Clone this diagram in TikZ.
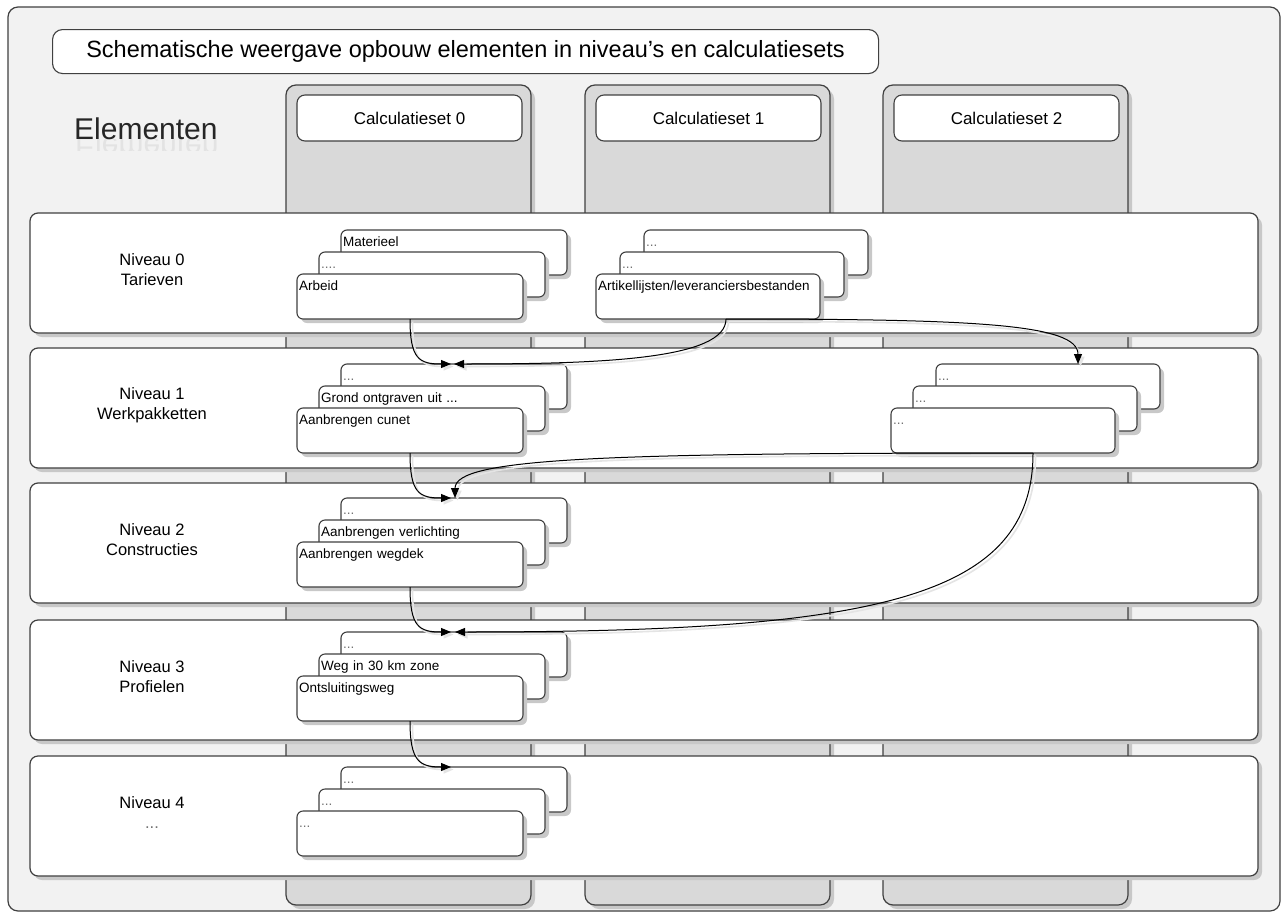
\documentclass[tikz,border=0pt]{standalone}
\usepackage{fontspec}
\usepackage{graphicx}
\setmainfont{Liberation Sans}
\usetikzlibrary{arrows.meta,shadows}
\definecolor{framefill}{HTML}{F2F2F2}
\definecolor{colfill}{HTML}{D9D9D9}
\definecolor{edgec}{HTML}{404040}
\definecolor{shadec}{HTML}{C8C8C8}
\definecolor{lineshade}{HTML}{E4E4E4}
\newcommand\myconn[1]{\draw[connsh] #1; \draw[conn] #1;}
\tikzset{
  myshadow/.style={drop shadow={shadow xshift=4pt, shadow yshift=-4pt, fill=shadec, opacity=1}},
  elbox/.style={draw=edgec, fill=white, line width=1.1pt, rounded corners=6pt,
    inner xsep=2pt, inner ysep=2pt, text height=14pt, text depth=27pt, align=left,
    font=\fontsize{13.5}{16}\selectfont, anchor=north west, outer sep=0pt, myshadow},
  lvl/.style={draw=edgec, fill=white, line width=1.2pt, rounded corners=8pt,
    minimum width=1228pt, minimum height=120pt, anchor=north west, inner sep=0pt, outer sep=0pt, myshadow},
  colbox/.style={draw=edgec, fill=colfill, line width=1.2pt, rounded corners=10pt,
    minimum width=245pt, minimum height=820pt, anchor=north west, inner sep=0pt, outer sep=0pt, myshadow},
  hdr/.style={draw=edgec, fill=white, line width=1.1pt, rounded corners=8pt,
    minimum width=225pt, minimum height=46pt, anchor=north west, inner sep=0pt, outer sep=0pt,
    font=\fontsize{17}{20}\selectfont},
  lvltext/.style={align=center, font=\fontsize{16.5}{20}\selectfont},
  conn/.style={draw=black, line width=1pt, -{Triangle[length=10pt,width=8pt]}},
  connsh/.style={draw=lineshade, line width=1.6pt, -{Triangle[length=10pt,width=8pt]},
    transform canvas={shift={(2.5pt,-2.5pt)}}},
}
\begin{document}
\begin{tikzpicture}[x=1pt,y=-1pt]
\fill[white] (0,0) rectangle (1282,913);
\useasboundingbox (0,0) rectangle (1282,913);
% outer frame
\draw[draw=edgec, fill=framefill, line width=1.2pt, rounded corners=10pt] (8,7) rectangle (1280,911);
% title
\node[draw=edgec, fill=white, line width=1.1pt, rounded corners=10pt, minimum width=826pt,
  minimum height=44pt, anchor=north west, inner sep=0pt, font=\fontsize{23.5}{28}\selectfont]
  (title) at (52,29) {Schematische weergave opbouw elementen in niveau’s en calculatiesets};
% Elementen with reflection
\begin{scope}
\clip (60,139) rectangle (240,150);
\node[anchor=base west, inner sep=0pt, text=gray!22, font=\fontsize{30}{36}\selectfont] (elemr) at (75,137) {\scalebox{1}[-1]{Elementen}};
\end{scope}
\node[anchor=base west, inner sep=0pt, font=\fontsize{30}{36}\selectfont, text=black!85] (elem) at (74,139) {Elementen};
% columns
\node[colbox] (col0) at (286,85) {};
\node[colbox] (col1) at (585,85) {};
\node[colbox] (col2) at (883,85) {};
\node[hdr] (cs0) at (297,95) {Calculatieset 0};
\node[hdr] (cs1) at (596,95) {Calculatieset 1};
\node[hdr] (cs2) at (894,95) {Calculatieset 2};
% levels
\node[lvl] (l0) at (30,213) {};
\node[lvl] (l1) at (30,348) {};
\node[lvl] (l2) at (30,483) {};
\node[lvl] (l3) at (30,620) {};
\node[lvl] (l4) at (30,756) {};
\node[lvltext] (n0) at (152,270) {Niveau 0\\Tarieven};
\node[lvltext] (n1) at (152,405) {Niveau 1\\Werkpakketten};
\node[lvltext] (n2) at (152,540) {Niveau 2\\Constructies};
\node[lvltext] (n3) at (152,677) {Niveau 3\\Profielen};
\node[lvltext] (n4) at (152,813) {Niveau 4\\\textcolor{black!55}{...}};
% level 0
\node[elbox, text width=222pt] (a0b) at (341,230) {Materieel};
\node[elbox, text width=222pt] (a0m) at (319,252) {\textcolor{black!55}{....}};
\node[elbox, text width=222pt] (a0f) at (297,274) {Arbeid};
\node[elbox, text width=220pt] (b0b) at (644,230) {\textcolor{black!55}{...}};
\node[elbox, text width=220pt] (b0m) at (620,252) {\textcolor{black!55}{...}};
\node[elbox, text width=220pt] (b0f) at (596,274) {Artikellijsten/leveranciersbestanden};
% level 1
\node[elbox, text width=222pt] (a1b) at (341,364) {\textcolor{black!55}{...}};
\node[elbox, text width=222pt] (a1m) at (319,386) {Grond ontgraven uit ...};
\node[elbox, text width=222pt] (a1f) at (297,408) {Aanbrengen cunet};
\node[elbox, text width=220pt] (c1b) at (936,364) {\textcolor{black!55}{...}};
\node[elbox, text width=220pt] (c1m) at (913,386) {\textcolor{black!55}{...}};
\node[elbox, text width=220pt] (c1f) at (891,408) {\textcolor{black!55}{...}};
% level 2
\node[elbox, text width=222pt] (a2b) at (341,498) {\textcolor{black!55}{...}};
\node[elbox, text width=222pt] (a2m) at (319,520) {Aanbrengen verlichting};
\node[elbox, text width=222pt] (a2f) at (297,542) {Aanbrengen wegdek};
% level 3
\node[elbox, text width=222pt] (a3b) at (341,632) {\textcolor{black!55}{...}};
\node[elbox, text width=222pt] (a3m) at (319,654) {Weg in 30 km zone};
\node[elbox, text width=222pt] (a3f) at (297,676) {Ontsluitingsweg};
% level 4
\node[elbox, text width=222pt] (a4b) at (341,767) {\textcolor{black!55}{...}};
\node[elbox, text width=222pt] (a4m) at (319,789) {\textcolor{black!55}{...}};
\node[elbox, text width=222pt] (a4f) at (297,811) {\textcolor{black!55}{...}};
% connector end points
\coordinate (s0) at ([xshift=18pt]b0f.south);
\coordinate (s1) at ([xshift=30pt]c1f.south);
\coordinate (t1r) at ([xshift=110pt]a1b.north west);
\coordinate (t1l) at ([xshift=113pt]a1b.north west);
\coordinate (t1c) at ([xshift=142pt]c1b.north west);
\coordinate (t2r) at ([xshift=110pt]a2b.north west);
\coordinate (t2d) at ([xshift=114pt]a2b.north west);
\coordinate (t3r) at ([xshift=110pt]a3b.north west);
\coordinate (t3l) at ([xshift=114pt]a3b.north west);
\coordinate (t4r) at ([xshift=110pt]a4b.north west);
% connectors
\myconn{(a0f.south) .. controls +(0,40) and +(-32,0) .. (t1r)}
\myconn{(s0) .. controls +(0,40) and +(150,0) .. (t1l)}
\myconn{(s0) .. controls +(250,0) and +(0,-40) .. (t1c)}
\myconn{(a1f.south) .. controls +(0,40) and +(-32,0) .. (t2r)}
\myconn{(s1) .. controls +(-430,0) and +(0,-40) .. (t2d)}
\myconn{(a2f.south) .. controls +(0,40) and +(-32,0) .. (t3r)}
\myconn{(s1) .. controls +(0,145) and +(422,0) .. (t3l)}
\myconn{(a3f.south) .. controls +(0,40) and +(-32,0) .. (t4r)}
\end{tikzpicture}
\end{document}
